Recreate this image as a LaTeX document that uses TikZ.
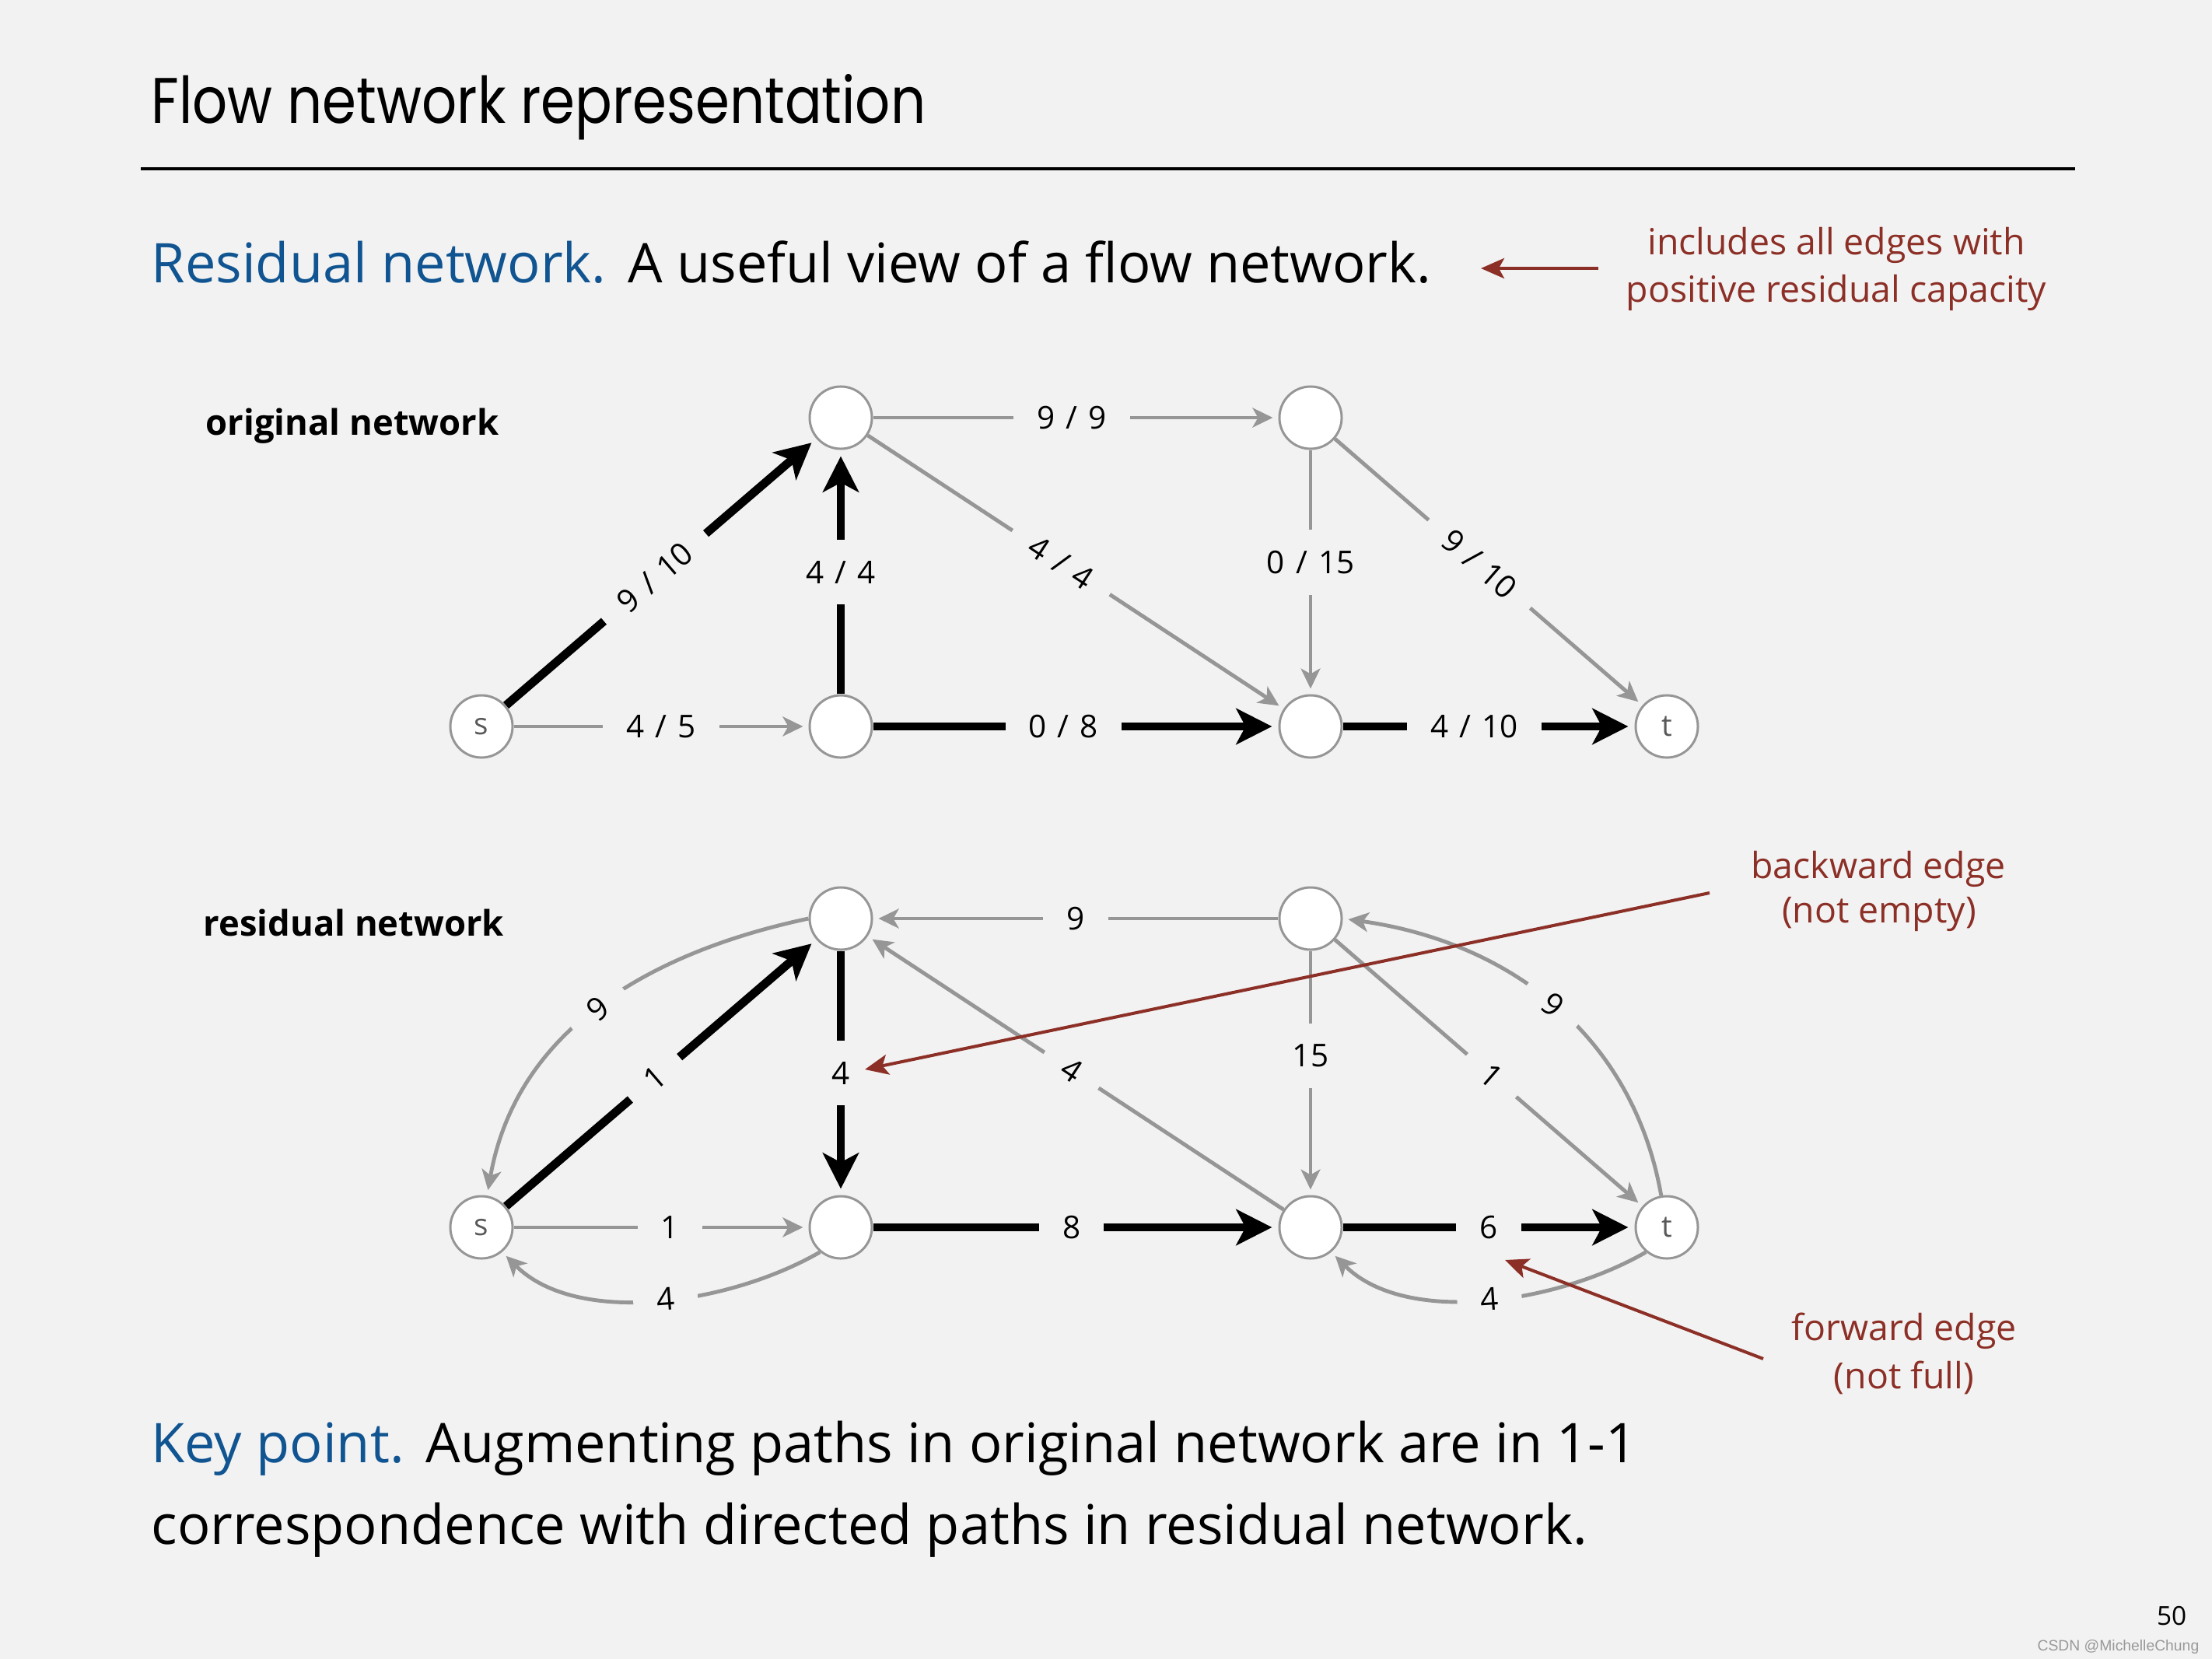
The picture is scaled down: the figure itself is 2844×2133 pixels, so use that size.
\documentclass[tikz,border=0pt]{standalone}
\usepackage{fontspec}
\usepackage{graphicx}
\setmainfont{Open Sans}
\newfontfamily\titlefont{Poppins}
\newfontfamily\wmfont{Liberation Sans}
\usetikzlibrary{arrows.meta}
\definecolor{bgc}{RGB}{242,242,242}
\definecolor{egray}{RGB}{150,150,150}
\definecolor{ngray}{RGB}{150,150,150}
\definecolor{sblue}{RGB}{16,84,145}
\definecolor{sred}{RGB}{140,47,38}
\newcommand\fsl{\hspace{0.35em}/\hspace{0.35em}}
\pgfdeclarelayer{bglayer}
\pgfdeclarelayer{edgelayer}
\pgfsetlayers{bglayer,edgelayer,main}
\begin{document}
\begin{tikzpicture}[x=0.01cm,y=0.01cm,
  vert/.style={circle, draw=ngray, line width=0.85pt, fill=white, minimum size=0.8cm, inner sep=0pt, text=black!65, font=\fontsize{11}{11}\selectfont},
  gedge/.style={draw=egray, line width=1.4pt, shorten >=0.07cm, -{Stealth[length=0.26cm,width=0.25cm,inset=0.07cm]}},
  tedge/.style={gedge, line width=0.95pt},
  bedge/.style={draw=black, line width=3.1pt, shorten >=0.08cm, -{Stealth[length=0.46cm,width=0.46cm,inset=0.12cm]}},
  lbl/.style={fill=bgc, inner xsep=0.3cm, inner ysep=0.27cm, text=black, font=\fontsize{11.5}{11.5}\selectfont},
  slbl/.style={lbl, sloped, inner ysep=0.1cm},
  redarrow/.style={draw=sred, line width=1.15pt, -{Stealth[length=0.3cm,width=0.26cm,inset=0.07cm]}},
  body/.style={anchor=base west, inner sep=0pt, font=\fontsize{20}{20}\selectfont},
  note/.style={anchor=base, inner sep=0pt, text=sred, font=\fontsize{13.2}{13.2}\selectfont},
  netname/.style={anchor=base west, inner sep=0pt, font=\fontsize{12.9}{12.9}\selectfont\bfseries},
]
\begin{pgfonlayer}{bglayer}
\fill[bgc] (0,0) rectangle (2844,-2133);
\end{pgfonlayer}
\useasboundingbox (0,0) rectangle (2844,-2133);

% title and rule
\node[anchor=base west, inner sep=0pt] (title) at (194,-158) {\resizebox{9.95cm}{0.63cm}{\titlefont Flow network representation}};
\draw[line width=1pt] (181,-217) -- (2668,-217);

% intro line
\node[body] (intro) at (194,-363) {\textcolor{sblue}{Residual network.}\hspace{0.4em}A useful view of a flow network.};
\node[note] (inc1) at (2361,-327) {includes all edges with};
\node[note] (inc2) at (2361,-388) {positive residual capacity};
\coordinate (incA) at (2055,-345);
\coordinate (incB) at (1904,-345);
\draw[redarrow] (incA) -- (incB);

% network names
\node[netname] (origname) at (264,-559) {original network};
\node[netname] (resname) at (261,-1203) {residual network};

% original network vertices
\node[vert] (s1) at (619,-934) {s};
\node[vert] (A1) at (1081,-934) {};
\node[vert] (B1) at (1685,-934) {};
\node[vert] (t1) at (2143,-934) {t};
\node[vert] (C1) at (1081,-537) {};
\node[vert] (D1) at (1685,-537) {};

% residual network vertices
\node[vert] (s2) at (619,-1578) {s};
\node[vert] (A2) at (1081,-1578) {};
\node[vert] (B2) at (1685,-1578) {};
\node[vert] (t2) at (2143,-1578) {t};
\node[vert] (C2) at (1081,-1181) {};
\node[vert] (D2) at (1685,-1181) {};

\begin{pgfonlayer}{edgelayer}
% original edges
\draw[bedge] (s1) -- node[slbl, pos=0.48] {9\fsl 10} (C1);
\draw[gedge] (s1) -- node[lbl, pos=0.5] {4\fsl 5} (A1);
\draw[bedge] (A1) -- node[lbl] {4\fsl 4} (C1);
\draw[gedge] (C1) -- node[lbl, pos=0.49] {9\fsl 9} (D1);
\draw[gedge] (C1) -- node[slbl, pos=0.465] {4\fsl 4} (B1);
\draw[tedge] (D1) -- node[lbl, pos=0.46] {0\fsl 15} (B1);
\draw[gedge] (D1) -- node[slbl, pos=0.47] {9\fsl 10} (t1);
\draw[bedge] (A1) -- node[lbl, pos=0.47] {0\fsl 8} (B1);
\draw[bedge] (B1) -- node[lbl, pos=0.45] {4\fsl 10} (t1);

% residual edges
\draw[bedge] (s2) -- node[slbl, pos=0.48] {1} (C2);
\draw[bedge] (C2) -- node[lbl] (bw4) {4} (A2);
\draw[bedge] (A2) -- node[lbl, pos=0.49] {8} (B2);
\draw[bedge] (B2) -- node[lbl, pos=0.5] (fw6) {6} (t2);
\draw[gedge] (s2) -- node[lbl, pos=0.53] {1} (A2);
\draw[gedge] (D2) -- node[lbl] {9} (C2);
\draw[gedge] (B2) -- node[slbl, pos=0.51] {4} (C2);
\draw[tedge] (D2) -- node[lbl, pos=0.43] {15} (B2);
\draw[gedge] (D2) -- node[slbl, pos=0.51] {1} (t2);
\draw[gedge] (C2.west) to[out=192, in=80] node[slbl] {9} (s2);
\draw[gedge] (t2) to[out=100, in=-8] node[slbl] {9} (D2.east);
\draw[gedge] (A2.-130) to[out=210, in=-45, looseness=0.85] node[slbl, pos=0.47] {4} (s2.-50);
\draw[gedge] (t2.-130) to[out=210, in=-45, looseness=0.85] node[slbl, pos=0.48] {4} (B2.-50);
\end{pgfonlayer}

% annotations
\node[note] (bw1) at (2415,-1129) {backward edge};
\node[note] (bw2) at (2416,-1186) {(not empty)};
\node[note] (fw1) at (2448,-1723) {forward edge};
\node[note] (fw2) at (2448,-1785) {(not full)};
\coordinate (bwS) at (2198,-1148);
\coordinate (bwE) at (1112,-1375);
\draw[redarrow] (bwS) -- (bwE);
\coordinate (fwS) at (2267,-1747);
\coordinate (fwE) at (1935,-1620);
\draw[redarrow] (fwS) -- (fwE);

% key point
\node[body] (key1) at (194,-1880) {\textcolor{sblue}{Key point.}\hspace{0.4em}Augmenting paths in original network are in 1-1};
\node[body] (key2) at (194,-1985) {correspondence with directed paths in residual network.};

% page number and watermark
\node[anchor=base east, inner sep=0pt, font=\fontsize{9.5}{9.5}\selectfont] (pg) at (2812,-2089) {50};
\node[anchor=base east, inner sep=0pt, text=black!40, font=\wmfont\fontsize{5.5}{5.5}\selectfont] (wm) at (2828,-2122) {CSDN @MichelleChung};
\end{tikzpicture}
\end{document}
